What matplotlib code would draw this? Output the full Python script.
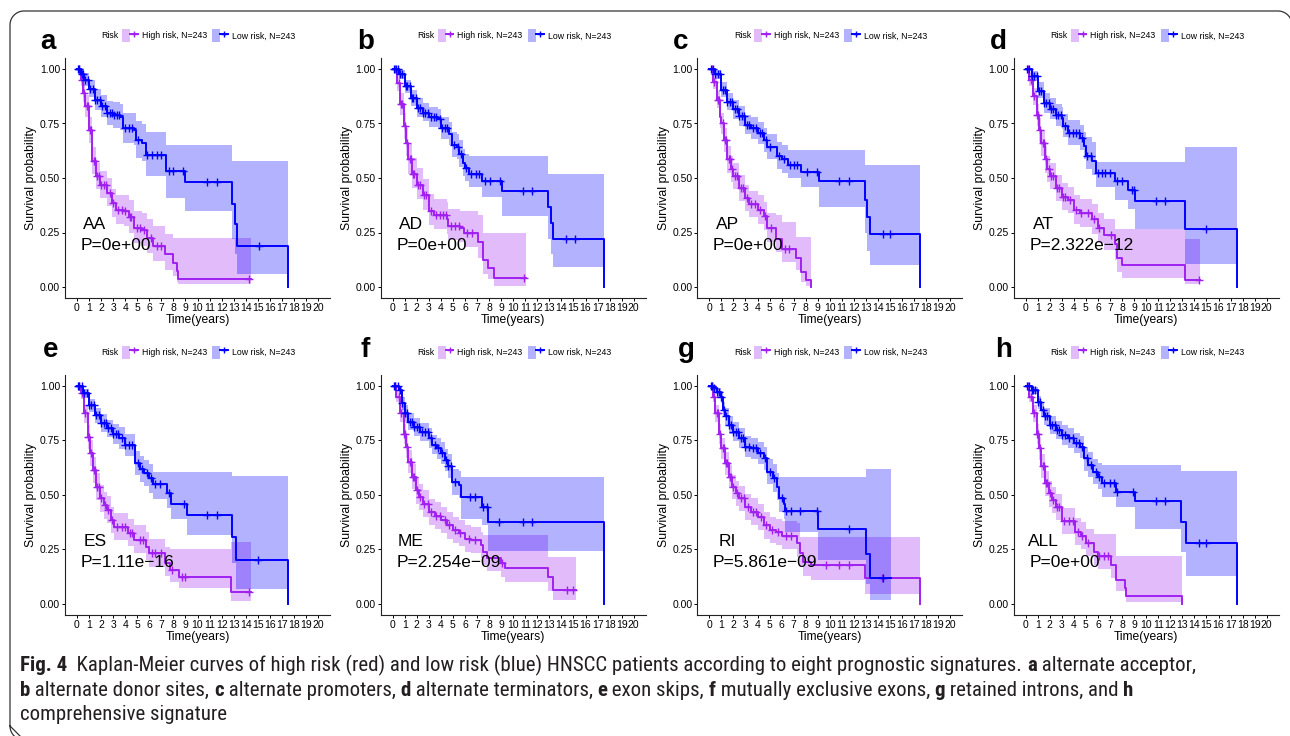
import numpy as np
import matplotlib.pyplot as plt
from matplotlib.patches import Patch
from matplotlib.lines import Line2D
from matplotlib.legend_handler import HandlerTuple
from matplotlib import font_manager

plt.rcParams['font.family'] = ['Liberation Sans', 'DejaVu Sans']

# ---------------- data ----------------
# each curve: step times, survival, lower/upper CI, censor times
# a : AA
a_hr_t = [0, .3, .5, .7, 1.0, 1.25, 1.6, 1.9, 2.5, 2.9, 3.2, 3.9, 4.3, 4.7, 5.4, 5.8, 6.3, 7.3, 8.0, 8.3, 8.4, 14.4]
a_hr_s = [1, .95, .89, .83, .72, .58, .51, .47, .43, .385, .355, .35, .32, .27, .26, .225, .19, .15, .11, .072, .037, .037]
a_hr_lo = [1, .92, .85, .78, .66, .52, .45, .41, .37, .32, .29, .28, .25, .20, .19, .155, .12, .08, .05, .025, .015, .015]
a_hr_up = [1, .98, .93, .88, .78, .64, .57, .53, .50, .45, .42, .42, .40, .35, .34, .31, .28, .245, .225, .225, .225, .225]
a_hr_cen = [0.2, 0.4, 0.6, 0.8, 0.9, 1.1, 1.2, 1.4, 1.5, 1.7, 1.8, 2.0, 2.2, 2.4, 2.7, 3.0, 3.4, 3.7, 4.0, 4.4, 4.5, 5.0, 5.2, 5.6, 6.1, 6.6, 7.0, 14.3]
a_lr_t = [0, .3, .6, 1.0, 1.5, 2.0, 2.5, 3.0, 3.6, 3.8, 4.7, 4.9, 5.4, 5.7, 7.4, 9.0, 12.9, 13.1, 13.3, 17.5]
a_lr_s = [1, .975, .95, .91, .86, .83, .80, .79, .78, .73, .72, .675, .66, .605, .53, .48, .38, .29, .19, 0]
a_lr_lo = [1, .955, .92, .87, .81, .78, .745, .73, .72, .66, .65, .59, .58, .51, .41, .35, .22, .15, .06, .06]
a_lr_up = [1, .995, .98, .95, .91, .88, .855, .85, .84, .80, .80, .76, .75, .713, .65, .65, .58, .58, .58, .58]
a_lr_cen = [0.1, 0.2, 0.4, 0.5, 0.7, 0.9, 1.1, 1.3, 1.5, 1.7, 1.9, 2.1, 2.3, 2.5, 2.7, 2.9, 3.1, 3.3, 3.5, 4.0, 4.3, 4.6, 5.1, 5.8, 6.2, 6.6, 7.0, 7.6, 8.0, 8.8, 10.8, 11.6, 15.1]

# b : AD
b_hr_t = [0, .33, .6, .9, 1.1, 1.3, 1.6, 2.0, 2.5, 3.0, 3.4, 4.5, 4.6, 5.6, 5.9, 7.1, 7.5, 7.9, 8.4, 11.1]
b_hr_s = [1, .935, .84, .74, .66, .585, .52, .47, .42, .35, .33, .31, .28, .27, .25, .205, .125, .085, .043, .043]
b_hr_lo = [1, .90, .79, .68, .60, .52, .455, .405, .355, .285, .265, .245, .215, .205, .185, .135, .06, .035, .005, .005]
b_hr_up = [1, .97, .89, .80, .73, .655, .59, .545, .495, .425, .405, .39, .36, .35, .35, .33, .25, .25, .25, .25]
b_hr_cen = [0.2, 0.5, 0.7, 0.8, 1.0, 1.2, 1.4, 1.5, 1.7, 1.8, 2.1, 2.3, 2.6, 2.8, 3.2, 3.6, 3.9, 4.2, 4.4, 4.8, 5.2, 5.5, 6.2, 6.6, 10.9]
b_lr_t = [0, .5, 1.0, 1.5, 2.0, 2.5, 3.0, 3.8, 4.0, 4.7, 4.9, 5.3, 5.5, 5.8, 6.0, 6.3, 7.4, 9.1, 12.9, 13.1, 13.3, 17.5]
b_lr_s = [1, .975, .92, .867, .82, .80, .78, .77, .73, .70, .65, .64, .61, .57, .545, .52, .485, .44, .365, .295, .22, 0]
b_lr_lo = [1, .955, .89, .83, .78, .76, .735, .725, .68, .65, .595, .585, .55, .51, .485, .46, .415, .325, .22, .15, .093, .093]
b_lr_up = [1, .995, .95, .905, .865, .845, .825, .815, .78, .755, .71, .70, .675, .635, .61, .60, .60, .60, .52, .52, .52, .52]
b_lr_cen = [0.1, 0.3, 0.4, 0.6, 0.8, 1.1, 1.2, 1.4, 1.6, 1.7, 1.9, 2.1, 2.3, 2.5, 2.7, 2.9, 3.2, 3.4, 3.6, 3.9, 4.1, 4.3, 4.5, 5.1, 5.4, 5.7, 6.1, 6.5, 6.9, 7.2, 7.7, 8.1, 8.9, 10.8, 11.6, 14.4, 15.1]

# c : AP
c_hr_t = [0, .3, .6, .9, 1.0, 1.2, 1.5, 1.8, 2.0, 2.5, 3.0, 3.3, 4.0, 4.5, 4.8, 5.5, 6.0, 7.2, 7.6, 8.0, 8.4]
c_hr_s = [1, .94, .86, .78, .75, .675, .585, .54, .51, .455, .41, .38, .355, .325, .27, .22, .175, .135, .07, .032, 0]
c_hr_lo = [1, .91, .82, .73, .70, .62, .525, .48, .45, .395, .35, .32, .29, .26, .205, .16, .115, .08, .025, .005, 0]
c_hr_up = [1, .97, .90, .83, .80, .73, .645, .60, .57, .515, .47, .44, .42, .39, .34, .33, .30, .23, .23, .23, 0]
c_hr_cen = [0.2, 0.4, 0.7, 0.8, 1.1, 1.3, 1.4, 1.6, 1.7, 1.9, 2.1, 2.3, 2.6, 2.8, 3.1, 3.5, 3.8, 4.2, 4.6, 5.1, 6.3, 6.6]
c_lr_t = [0, .5, 1.0, 1.5, 2.0, 2.5, 3.0, 3.5, 4.0, 4.5, 4.8, 5.6, 6.0, 6.5, 7.6, 9.1, 12.9, 13.1, 13.3, 17.5]
c_lr_s = [1, .975, .905, .85, .815, .785, .745, .73, .705, .675, .64, .60, .585, .56, .527, .485, .40, .32, .245, 0]
c_lr_lo = [1, .955, .87, .81, .77, .74, .70, .68, .655, .62, .585, .54, .525, .50, .46, .365, .25, .165, .10, .10]
c_lr_up = [1, .995, .94, .89, .86, .83, .79, .78, .755, .73, .70, .665, .65, .63, .63, .63, .56, .56, .56, .56]
c_lr_cen = [0.1, 0.3, 0.5, 0.7, 0.9, 1.1, 1.3, 1.5, 1.7, 1.9, 2.1, 2.3, 2.5, 2.7, 2.9, 3.1, 3.3, 3.6, 3.9, 4.2, 4.4, 4.7, 5.0, 5.8, 6.2, 6.7, 7.0, 7.3, 8.1, 8.9, 10.8, 11.6, 14.4, 15.0]

# d : AT
d_hr_t = [0, .3, .6, .9, 1.1, 1.3, 1.6, 1.8, 2.0, 2.5, 3.0, 3.5, 4.0, 4.5, 5.5, 6.0, 6.5, 7.4, 7.6, 8.0, 13.2, 14.5]
d_hr_s = [1, .95, .875, .79, .72, .66, .585, .54, .51, .455, .415, .40, .355, .34, .31, .27, .24, .195, .134, .10, .03, .03]
d_hr_lo = [1, .92, .835, .74, .665, .60, .525, .48, .45, .395, .355, .34, .29, .275, .245, .20, .17, .125, .07, .04, .012, .012]
d_hr_up = [1, .98, .915, .84, .775, .72, .645, .60, .57, .515, .475, .46, .42, .405, .38, .34, .31, .265, .265, .265, .22, .22]
d_hr_cen = [0.2, 0.4, 0.7, 0.9, 1.0, 1.2, 1.4, 1.5, 1.7, 1.9, 2.1, 2.3, 2.6, 2.8, 3.1, 3.3, 3.7, 4.2, 4.6, 5.2, 5.7, 6.1, 7.1, 14.4]
d_lr_t = [0, .5, 1.0, 1.5, 2.0, 2.5, 3.0, 3.1, 3.5, 4.5, 4.8, 5.0, 5.5, 5.8, 7.4, 8.5, 9.1, 13.2, 17.5]
d_lr_s = [1, .966, .90, .845, .815, .79, .775, .74, .705, .685, .645, .60, .577, .525, .485, .447, .393, .264, 0]
d_lr_lo = [1, .945, .865, .80, .77, .74, .725, .69, .65, .63, .585, .54, .515, .46, .40, .36, .267, .107, .107]
d_lr_up = [1, .99, .94, .89, .865, .84, .825, .795, .765, .745, .71, .69, .665, .573, .573, .573, .573, .64, .64]
d_lr_cen = [0.1, 0.3, 0.5, 0.7, 0.9, 1.1, 1.3, 1.5, 1.7, 1.9, 2.1, 2.3, 2.5, 2.7, 2.9, 3.3, 3.6, 3.9, 4.2, 4.4, 4.7, 5.1, 5.4, 6.0, 6.3, 6.6, 7.0, 7.6, 8.0, 8.8, 9.0, 10.8, 11.6, 15.0]

# e : ES
e_hr_t = [0, .3, .6, .9, 1.1, 1.3, 1.6, 1.9, 2.2, 2.5, 2.8, 3.1, 4.2, 4.7, 5.7, 6.0, 7.3, 7.7, 8.5, 12.8, 14.4]
e_hr_s = [1, .965, .873, .766, .69, .614, .537, .484, .453, .43, .385, .354, .324, .293, .26, .232, .186, .156, .125, .056, .056]
e_hr_lo = [1, .94, .83, .71, .63, .555, .475, .42, .39, .37, .325, .295, .265, .235, .20, .17, .13, .10, .075, .012, .012]
e_hr_up = [1, .99, .91, .82, .75, .675, .60, .545, .515, .495, .445, .415, .39, .36, .33, .30, .26, .25, .25, .285, .285]
e_hr_cen = [0.2, 0.4, 0.7, 0.9, 1.0, 1.2, 1.4, 1.5, 1.7, 1.8, 2.0, 2.3, 2.6, 2.9, 3.3, 3.7, 4.0, 4.4, 4.6, 5.2, 5.5, 6.2, 6.5, 7.0, 7.9, 8.7, 9.0, 14.3]
e_lr_t = [0, .5, 1.0, 1.5, 2.0, 2.5, 3.0, 3.5, 4.0, 4.8, 5.2, 5.6, 6.0, 6.3, 7.5, 7.8, 9.1, 12.9, 13.2, 17.5]
e_lr_s = [1, .965, .91, .866, .83, .805, .78, .76, .73, .645, .62, .60, .575, .55, .507, .46, .408, .305, .20, 0]
e_lr_lo = [1, .945, .88, .83, .79, .765, .735, .71, .68, .59, .56, .54, .51, .48, .44, .39, .316, .19, .07, .07]
e_lr_up = [1, .985, .94, .90, .87, .845, .825, .81, .78, .70, .68, .66, .64, .605, .605, .605, .605, .586, .586, .586]
e_lr_cen = [0.1, 0.2, 0.4, 0.6, 0.8, 1.0, 1.2, 1.4, 1.6, 1.8, 2.0, 2.2, 2.4, 2.6, 2.8, 3.0, 3.2, 3.4, 3.7, 4.0, 4.3, 4.6, 5.1, 5.4, 5.8, 6.1, 6.5, 6.9, 7.6, 8.9, 10.8, 11.6, 15.0]

# f : ME
f_hr_t = [0, .3, .6, .9, 1.1, 1.3, 1.6, 1.9, 2.2, 2.5, 3.0, 3.5, 4.0, 4.5, 5.0, 5.5, 6.0, 6.5, 7.3, 7.5, 7.8, 9.0, 9.3, 12.9, 13.3, 15.2]
f_hr_s = [1, .95, .873, .78, .72, .652, .583, .52, .49, .46, .42, .405, .385, .36, .34, .324, .30, .293, .27, .24, .21, .186, .163, .125, .064, .064]
f_hr_lo = [1, .925, .835, .735, .67, .60, .525, .46, .43, .40, .36, .345, .325, .30, .28, .265, .24, .235, .21, .18, .15, .125, .10, .06, .02, .02]
f_hr_up = [1, .975, .91, .825, .77, .705, .64, .58, .55, .52, .48, .465, .445, .42, .40, .385, .36, .355, .33, .315, .315, .315, .315, .217, .217, .217]
f_hr_cen = [0.2, 0.5, 0.7, 0.9, 1.0, 1.2, 1.4, 1.5, 1.7, 1.8, 2.0, 2.3, 2.6, 2.9, 3.2, 3.6, 3.9, 4.3, 4.7, 5.2, 5.6, 6.3, 6.8, 9.1, 14.5, 15.0]
f_lr_t = [0, .5, .8, 1.0, 1.3, 1.8, 2.3, 3.0, 3.3, 3.7, 4.0, 4.3, 4.6, 4.9, 5.5, 5.7, 7.4, 7.9, 17.5]
f_lr_s = [1, .98, .92, .873, .835, .81, .79, .76, .73, .713, .69, .66, .63, .56, .545, .49, .446, .377, 0]
f_lr_lo = [1, .96, .89, .835, .795, .77, .745, .715, .685, .665, .64, .61, .575, .50, .485, .39, .36, .245, .245]
f_lr_up = [1, .995, .95, .91, .875, .85, .83, .805, .775, .76, .74, .71, .685, .62, .61, .583, .583, .583, .583]
f_lr_cen = [0.1, 0.2, 0.4, 0.6, 0.8, 1.0, 1.2, 1.4, 1.6, 1.8, 2.0, 2.2, 2.4, 2.7, 2.9, 3.2, 3.5, 3.8, 4.1, 4.4, 4.6, 4.8, 5.2, 6.4, 6.8, 7.5, 7.8, 8.8, 10.8, 11.6]

# g : RI
g_hr_t = [0, .3, .5, .8, 1.0, 1.3, 1.6, 1.9, 2.2, 2.5, 3.0, 3.5, 4.0, 4.5, 5.0, 5.5, 6.0, 7.3, 7.5, 7.8, 8.4, 12.9, 17.5]
g_hr_s = [1, .95, .873, .78, .713, .644, .583, .537, .507, .484, .446, .423, .40, .362, .34, .33, .31, .278, .232, .194, .179, .118, 0]
g_hr_lo = [1, .925, .835, .735, .665, .59, .53, .48, .45, .425, .385, .36, .34, .30, .28, .27, .25, .215, .17, .13, .11, .044, .044]
g_hr_up = [1, .975, .91, .825, .76, .695, .635, .59, .565, .54, .505, .485, .46, .42, .40, .39, .38, .37, .305, .305, .305, .305, .305]
g_hr_cen = [0.2, 0.4, 0.6, 0.7, 0.9, 1.1, 1.2, 1.4, 1.5, 1.7, 1.8, 2.0, 2.3, 2.6, 2.9, 3.2, 3.6, 3.9, 4.3, 4.7, 5.2, 5.7, 6.4, 6.8, 9.7, 10.8, 11.6, 14.3]
g_lr_t = [0, .3, .6, 1.0, 1.1, 1.3, 1.6, 2.0, 2.5, 3.0, 3.5, 4.0, 4.5, 4.8, 5.3, 5.6, 5.8, 6.2, 6.3, 9.0, 13.0, 13.3, 15.1]
g_lr_s = [1, .988, .97, .95, .89, .86, .82, .79, .76, .72, .713, .69, .667, .606, .576, .537, .484, .46, .426, .342, .227, .118, .118]
g_lr_lo = [1, .97, .945, .92, .855, .82, .78, .745, .715, .675, .665, .64, .615, .55, .515, .475, .42, .39, .33, .20, .09, .018, .018]
g_lr_up = [1, 1, .99, .975, .925, .90, .86, .835, .805, .77, .76, .74, .72, .665, .64, .60, .583, .583, .583, .583, .617, .617, .617]
g_lr_cen = [0.1, 0.2, 0.4, 0.6, 0.8, 1.0, 1.2, 1.4, 1.6, 1.8, 2.0, 2.2, 2.4, 2.6, 2.8, 3.0, 3.3, 3.6, 3.9, 4.2, 4.6, 5.0, 5.4, 6.0, 6.4, 6.8, 7.5, 8.9, 11.6, 14.4]

# h : ALL
h_hr_t = [0, .3, .6, .9, 1.1, 1.3, 1.6, 1.9, 2.2, 2.5, 3.0, 4.1, 4.6, 5.0, 5.7, 6.0, 7.1, 7.5, 8.2, 8.3, 13.0]
h_hr_s = [1, .95, .873, .78, .713, .63, .553, .507, .476, .446, .378, .33, .31, .28, .24, .218, .18, .11, .072, .038, 0]
h_hr_lo = [1, .925, .835, .735, .66, .575, .495, .445, .415, .385, .32, .27, .25, .22, .18, .16, .12, .06, .03, .01, 0]
h_hr_up = [1, .975, .91, .825, .765, .685, .61, .565, .535, .505, .44, .395, .375, .345, .32, .32, .32, .22, .22, .22, 0]
h_hr_cen = [0.2, 0.4, 0.7, 0.9, 1.0, 1.2, 1.4, 1.5, 1.7, 1.8, 2.0, 2.3, 2.6, 2.8, 3.2, 3.6, 3.9, 4.3, 4.7, 5.2, 6.1, 6.5, 6.8]
h_lr_t = [0, .5, 1.0, 1.3, 1.5, 2.0, 2.5, 3.0, 3.5, 4.0, 4.5, 4.8, 5.2, 5.6, 6.0, 6.3, 7.5, 9.1, 12.9, 13.3, 17.5]
h_lr_s = [1, .98, .927, .89, .86, .82, .797, .775, .76, .736, .72, .667, .637, .606, .583, .553, .515, .47, .374, .28, 0]
h_lr_lo = [1, .96, .895, .855, .82, .78, .755, .73, .715, .69, .67, .61, .58, .55, .525, .49, .445, .343, .24, .128, .128]
h_lr_up = [1, .995, .955, .925, .90, .86, .84, .82, .805, .785, .77, .72, .695, .665, .645, .637, .637, .637, .61, .61, .61]
h_lr_cen = [0.1, 0.3, 0.5, 0.6, 0.8, 1.0, 1.2, 1.4, 1.6, 1.8, 2.0, 2.2, 2.4, 2.6, 2.8, 3.0, 3.3, 3.6, 3.9, 4.2, 4.4, 4.7, 5.1, 5.4, 5.8, 6.1, 6.5, 7.0, 7.3, 7.6, 8.9, 10.8, 11.6, 14.4, 15.0]

letters = ['a', 'b', 'c', 'd', 'e', 'f', 'g', 'h']
signatures = ['AA', 'AD', 'AP', 'AT', 'ES', 'ME', 'RI', 'ALL']
pvalues = ['P=0e+00', 'P=0e+00', 'P=0e+00', 'P=2.322e\u221212',
           'P=1.11e\u221216', 'P=2.254e\u221209', 'P=5.861e\u221209', 'P=0e+00']
legend_labels = ['High risk, N=243', 'Low risk, N=243']
year_ticks = list(range(0, 21))
surv_ticks = [0.0, 0.25, 0.5, 0.75, 1.0]

high_curves = [
    (a_hr_t, a_hr_s, a_hr_lo, a_hr_up, a_hr_cen), (b_hr_t, b_hr_s, b_hr_lo, b_hr_up, b_hr_cen),
    (c_hr_t, c_hr_s, c_hr_lo, c_hr_up, c_hr_cen), (d_hr_t, d_hr_s, d_hr_lo, d_hr_up, d_hr_cen),
    (e_hr_t, e_hr_s, e_hr_lo, e_hr_up, e_hr_cen), (f_hr_t, f_hr_s, f_hr_lo, f_hr_up, f_hr_cen),
    (g_hr_t, g_hr_s, g_hr_lo, g_hr_up, g_hr_cen), (h_hr_t, h_hr_s, h_hr_lo, h_hr_up, h_hr_cen)]
low_curves = [
    (a_lr_t, a_lr_s, a_lr_lo, a_lr_up, a_lr_cen), (b_lr_t, b_lr_s, b_lr_lo, b_lr_up, b_lr_cen),
    (c_lr_t, c_lr_s, c_lr_lo, c_lr_up, c_lr_cen), (d_lr_t, d_lr_s, d_lr_lo, d_lr_up, d_lr_cen),
    (e_lr_t, e_lr_s, e_lr_lo, e_lr_up, e_lr_cen), (f_lr_t, f_lr_s, f_lr_lo, f_lr_up, f_lr_cen),
    (g_lr_t, g_lr_s, g_lr_lo, g_lr_up, g_lr_cen), (h_lr_t, h_lr_s, h_lr_lo, h_lr_up, h_lr_cen)]

PURPLE = '#A020F0'
BLUE = '#0000FF'

# ---------------- layout (pixels) ----------------
W, H = 1290, 736
col_x0 = [77, 392.7, 709.3, 1025.7]     # pixel of year 0 in each column
row_y1 = [69, 385.7]                     # pixel of survival 1.0
row_y0 = [287, 604]                      # pixel of survival 0.0
ppy = 12.05                              # pixels per year
letter_xy = [(40, 49), (357, 49), (673, 49), (990, 49),
             (43, 357), (361, 357), (678, 357), (995, 357)]

fig = plt.figure(figsize=(W / 100, H / 100), dpi=100)

# frame: top and left edges with rounded corners, right/bottom run off the page
bg = fig.add_axes([0, 0, 1, 1])
bg.set_xlim(0, W)
bg.set_ylim(H, 0)
bg.axis('off')
rad = 14
fx0, fy0, fx1, fy1 = 10, 11, 1292, 740
ang = np.linspace(0, np.pi / 2, 20)
frame_x = np.concatenate([
    fx0 + rad - rad * np.sin(ang[::-1]),          # bottom-left arc
    [fx0, fx0],
    fx0 + rad - rad * np.cos(ang),                 # top-left arc
    [fx1 - rad],
    fx1 - rad + rad * np.sin(ang),                 # top-right arc
])
frame_y = np.concatenate([
    fy1 - rad + rad * np.cos(ang[::-1]),
    [fy1 - rad, fy0 + rad],
    fy0 + rad - rad * np.sin(ang),
    [fy0],
    fy0 + rad - rad * np.cos(ang),
])
bg.plot(frame_x, frame_y, color='#333333', lw=0.9, clip_on=True)


def draw_curve(ax, curve, color):
    t, s, lo, up, cen = [np.asarray(v, dtype=float) for v in curve]
    ax.fill_between(t, lo, up, step='post', color=color, alpha=0.3, lw=0)
    ax.step(t, s, where='post', color=color, lw=1.4)
    idx = np.searchsorted(t, cen, side='right') - 1
    ax.plot(cen, s[idx], ls='none', marker='+', color=color, ms=5.5, mew=1.0)


for i in range(8):
    r, c = divmod(i, 4)
    x0, y1, y0 = col_x0[c], row_y1[r], row_y0[r]
    uy = y0 - y1
    left = x0 - 1 * ppy
    width = 22 * ppy
    top = y1 - 0.05 * uy
    bottom = y0 + 0.05 * uy
    ax = fig.add_axes([left / W, 1 - bottom / H, width / W, (bottom - top) / H])
    ax.set_xlim(-1, 21)
    ax.set_ylim(-0.05, 1.05)

    draw_curve(ax, high_curves[i], PURPLE)
    draw_curve(ax, low_curves[i], BLUE)

    ax.set_xticks(year_ticks)
    ax.set_yticks(surv_ticks)
    ax.set_yticklabels(['%.2f' % v for v in surv_ticks])
    ax.tick_params(labelsize=7.5, length=2.2, width=0.7, pad=1.2, colors='black')
    for side in ('top', 'right'):
        ax.spines[side].set_visible(False)
    for side in ('left', 'bottom'):
        ax.spines[side].set_linewidth(0.8)
        ax.spines[side].set_color('#222222')
    ax.set_xlabel('Time(years)', fontsize=8.7, labelpad=1.0)
    ax.set_ylabel('Survival probability', fontsize=8.8, labelpad=2.0)

    ax.text(1.5, 0.265, signatures[i], ha='center', va='baseline', fontsize=12.5)
    ax.text(0.3, 0.17, pvalues[i], ha='left', va='baseline', fontsize=12.5)

    # legend strip above the panel
    ly = 1 + (top - (y1 - 33.3)) / (bottom - top)
    ax.text((x0 + 24.7 - left) / width, ly, 'Risk', transform=ax.transAxes,
            ha='left', va='center', fontsize=6.3)
    handles = []
    for col in (PURPLE, BLUE):
        handles.append((Patch(facecolor=col, alpha=0.3, lw=0),
                        Line2D([], [], color=col, lw=1.4, marker='+', ms=5, mew=1.0)))
    ax.legend(handles, legend_labels, handler_map={tuple: HandlerTuple(ndivide=None)},
              loc='center left', bbox_to_anchor=((x0 + 45 - left) / width, ly),
              ncol=2, frameon=False, fontsize=6.3, handlelength=1.8, handleheight=2.0,
              handletextpad=0.45, columnspacing=0.6, borderpad=0, borderaxespad=0,
              numpoints=1)

    lx, lyp = letter_xy[i]
    fig.text(lx / W, 1 - lyp / H, letters[i], fontsize=20, fontweight='bold',
             ha='left', va='baseline')


# ---------------- caption ----------------
def find_condensed():
    groups = {}
    for f in font_manager.fontManager.ttflist:
        st = str(f.stretch).lower()
        nm = f.name.lower()
        if f.style != 'normal' or 'mono' in nm:
            continue
        if 'extra' in st or 'ultra' in st or 'extra' in nm:
            continue
        if 'condensed' in st or 'condensed' in nm or 'narrow' in nm:
            w = f.weight if isinstance(f.weight, int) else {'normal': 400, 'regular': 400, 'bold': 700}.get(str(f.weight).lower(), 0)
            groups.setdefault((f.name, st), {})[w] = f.fname
    pref = ['open sans', 'noto sans', 'roboto', 'liberation sans', 'dejavu sans', '']
    for p in pref:
        for (nm, st), ws in groups.items():
            if nm.lower().startswith(p) and 400 in ws and 700 in ws:
                return ws[400], ws[700]
    return None


found = find_condensed()
if found:
    def cap_prop(bold, size):
        return font_manager.FontProperties(fname=found[1] if bold else found[0], size=size)
else:
    def cap_prop(bold, size):
        return font_manager.FontProperties(family=['Liberation Sans', 'DejaVu Sans'], size=size,
                                           weight='bold' if bold else 'normal')

cap_lines = [
    [('Fig. 4', True), ('  Kaplan-Meier curves of high risk (red) and low risk (blue) HNSCC patients '
                         'according to eight prognostic signatures. ', False),
     ('a', True), (' alternate acceptor,', False)],
    [('b', True), (' alternate donor sites, ', False), ('c', True), (' alternate promoters, ', False),
     ('d', True), (' alternate terminators, ', False), ('e', True), (' exon skips, ', False),
     ('f', True), (' mutually exclusive exons, ', False), ('g', True),
     (' retained introns, and ', False), ('h', True)],
    [('comprehensive signature', False)],
]
cap_base = [671, 696, 720]

renderer = fig.canvas.get_renderer()


def seg_width(txt, bold, size):
    prop = cap_prop(bold, size)
    w1 = renderer.get_text_width_height_descent('|' + txt + '|', prop, ismath=False)[0]
    w0 = renderer.get_text_width_height_descent('||', prop, ismath=False)[0]
    return w1 - w0


base_size = 11
line1_w = sum(seg_width(tx, b, base_size) for tx, b in cap_lines[0])
cap_size = min(max(base_size * (1183 / line1_w), 9), 15)

for parts, yb in zip(cap_lines, cap_base):
    x = 20
    for tx, b in parts:
        fig.text(x / W, 1 - yb / H, tx, fontproperties=cap_prop(b, cap_size),
                 color='#231F20', ha='left', va='baseline')
        x += seg_width(tx, b, cap_size)

fig.savefig('out.png', dpi=100)
